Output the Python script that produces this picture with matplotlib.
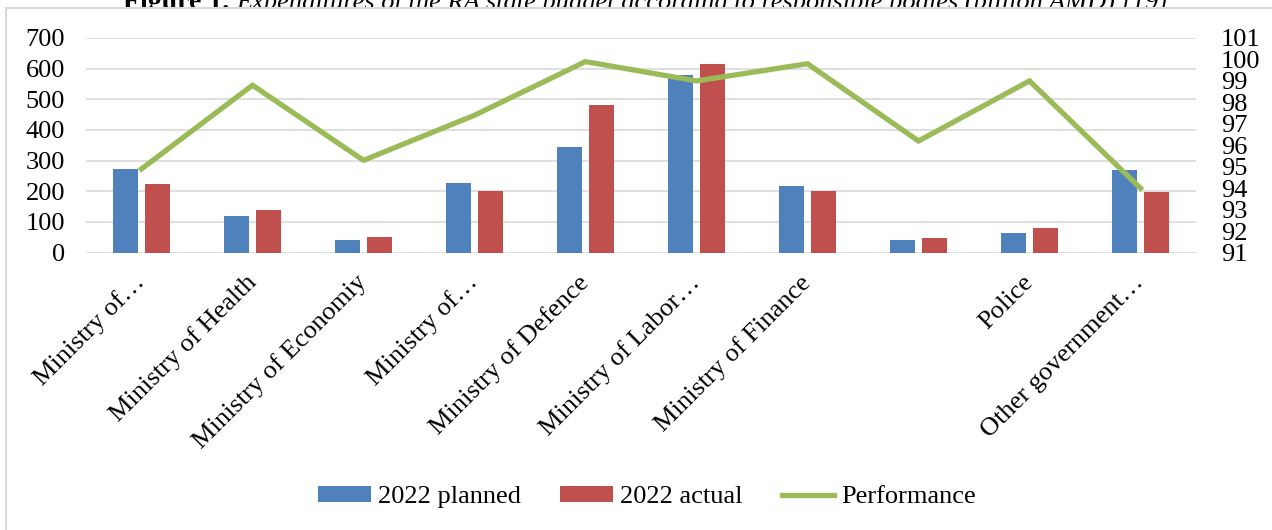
#!/usr/bin/env python3

import numpy as np
import matplotlib
matplotlib.use("Agg")
import matplotlib.pyplot as plt
from matplotlib.patches import Rectangle

categories = ["Ministry of…", "Ministry of Health", "Ministry of Economiy",
              "Ministry of…", "Ministry of Defence", "Ministry of Labor…",
              "Ministry of Finance", "", "Police", "Other government…"]
planned = [274, 120, 42, 227, 346, 580, 218, 42, 65, 269]
actual = [223, 140, 52, 202, 481, 615, 202, 49, 80, 197]
performance = [94.9, 98.8, 95.3, 97.4, 99.9, 99.0, 99.8, 96.2, 99.0, 94.0]

plt.rcParams['font.family'] = ['Liberation Serif', 'DejaVu Serif']
fs = 19

fig = plt.figure(figsize=(12.72, 5.30), dpi=100)

# title, half hidden behind the chart frame
ty = 1 - 9 / 530
t1 = fig.text(123 / 1272, ty, "Figure 1. ", fontsize=20, fontweight="bold",
              ha="left", va="baseline", zorder=-3)
t2 = fig.text(0, ty,
              "Expenditures of the RA state budget according to responsible bodies (billion AMD) [19]",
              fontsize=20, style="italic", ha="left", va="baseline", zorder=-3)
fig.canvas.draw()
x1 = t1.get_window_extent().x1
t2.set_x(x1 / 1272)
t2.set_fontsize(20 * (1165 - x1) / t2.get_window_extent().width)
frame = Rectangle((6 / 1272, -0.1), 1.1, 1.1 - 8 / 530, transform=fig.transFigure,
                  facecolor="white", edgecolor="#d9d9d9", lw=1.5, zorder=-2)
fig.patches.append(frame)

ax = fig.add_axes([86 / 1272, 1 - 252.6 / 530, 1110 / 1272, 214.6 / 530])
ax.patch.set_alpha(0)
x = np.arange(len(categories))
w = 0.225
ax.bar(x - 0.142, planned, w, color="#4f81bd", label="2022 planned", zorder=2)
ax.bar(x + 0.142, actual, w, color="#c0504d", label="2022 actual", zorder=2)
ax.set_xlim(-0.5, len(categories) - 0.5)
ax.set_ylim(0, 700)
ax.set_yticks(range(0, 701, 100))
ax.grid(axis="y", color="#d9d9d9", lw=1.2, zorder=0)
ax.set_axisbelow(True)
for s in ax.spines.values():
    s.set_visible(False)
ax.tick_params(axis="y", length=0, pad=15, labelsize=fs)
ax.tick_params(axis="x", length=0, pad=19, labelsize=fs)
ax.set_xticks(x)
ax.set_xticklabels(categories, rotation=45, ha="right", va="center",
                   rotation_mode="anchor")

ax2 = ax.twinx()
ax2.plot(x, performance, color="#9bbb59", lw=3.8, label="Performance",
         solid_joinstyle="miter", zorder=3)
ax2.set_ylim(91, 101)
ax2.set_yticks(range(91, 102))
for s in ax2.spines.values():
    s.set_visible(False)
ax2.tick_params(axis="y", length=0, pad=18, labelsize=fs)

h1, l1 = ax.get_legend_handles_labels()
h2, l2 = ax2.get_legend_handles_labels()
fig.legend(h1 + h2, l1 + l2, loc="center", bbox_to_anchor=(647 / 1272, 1 - 497 / 530),
           ncol=3, frameon=False, fontsize=fs, handlelength=2.0, handleheight=0.55,
           handletextpad=0.25, columnspacing=1.5)

fig.savefig("out.png", dpi=100)
